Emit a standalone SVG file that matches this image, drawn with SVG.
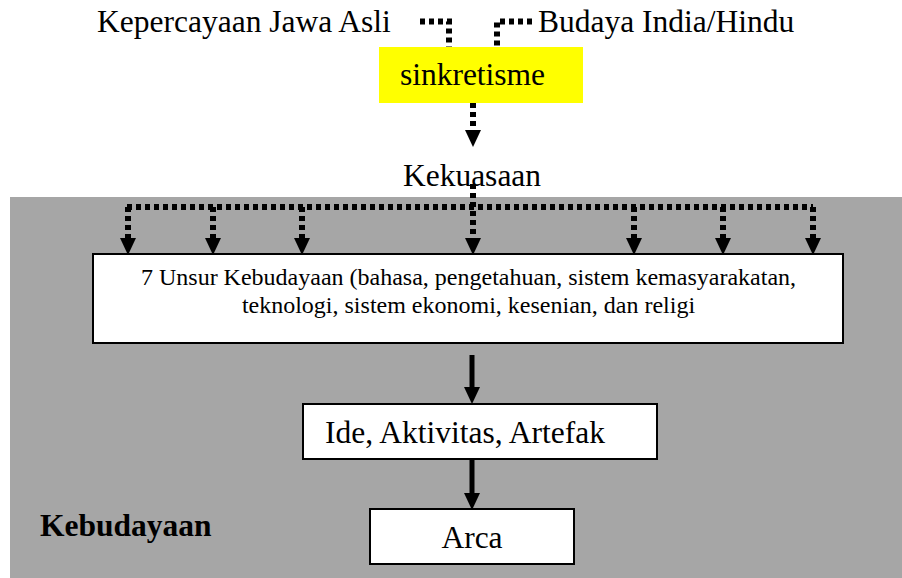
<svg xmlns="http://www.w3.org/2000/svg" width="902" height="578" viewBox="0 0 902 578">
  <style>
    text { font-family: 'Liberation Serif', 'Times New Roman', Times, serif; fill: #000; }
    .big { font-size: 31.5px; }
    .small { font-size: 24px; }
    .box { fill: #fff; stroke: #000; stroke-width: 2; }
    .dot { fill: none; stroke: #000; stroke-width: 6; stroke-dasharray: 5 4; }
    .solid { fill: none; stroke: #000; stroke-width: 5; }
  </style>
  <defs>
    <marker id="ah" markerUnits="userSpaceOnUse" markerWidth="18" markerHeight="18" refX="0" refY="8" orient="auto">
      <path d="M0,0 L17,8 L0,16 z" fill="#000"/>
    </marker>
  </defs>

  <rect id="background" x="10" y="197" width="892" height="381" fill="#a6a6a6"/>

  <g id="kepercayaan">
    <text class="big" font-family="Liberation Serif, serif" x="97" y="32">Kepercayaan Jawa Asli</text>
  </g>
  <g id="budaya">
    <text class="big" font-family="Liberation Serif, serif" x="538" y="32">Budaya India/Hindu</text>
  </g>
  <g id="sinkretisme">
    <rect x="379" y="47" width="204" height="56" fill="#ffff00"/>
    <text class="big" font-family="Liberation Serif, serif" x="472.5" y="85" text-anchor="middle">sinkretisme</text>
  </g>
  <g id="kekuasaan">
    <text class="big" font-family="Liberation Serif, serif" x="472" y="186" text-anchor="middle">Kekuasaan</text>
  </g>
  <g id="unsur">
    <rect class="box" x="93" y="254" width="750" height="89"/>
    <text class="small" font-family="Liberation Serif, serif" x="468.5" y="285" text-anchor="middle">7 Unsur Kebudayaan (bahasa, pengetahuan, sistem kemasyarakatan,</text>
    <text class="small" font-family="Liberation Serif, serif" x="468.5" y="313" text-anchor="middle">teknologi, sistem ekonomi, kesenian, dan religi</text>
  </g>
  <g id="ide">
    <rect class="box" x="303" y="404" width="354" height="55"/>
    <text class="big" font-family="Liberation Serif, serif" x="325" y="443">Ide, Aktivitas, Artefak</text>
  </g>
  <g id="arca">
    <rect class="box" x="370" y="509" width="204" height="55"/>
    <text class="big" font-family="Liberation Serif, serif" x="472" y="548" text-anchor="middle">Arca</text>
  </g>
  <g id="kebudayaan">
    <text class="big" font-family="Liberation Serif, serif" x="40" y="536" font-weight="bold">Kebudayaan</text>
  </g>

  <g id="connectors">
    <path class="dot" d="M420,21.5 L449,21.5 L449,47"/>
    <path class="dot" d="M532,21.5 L497,21.5 L497,47"/>
    <path class="dot" d="M473,103 L473,130" marker-end="url(#ah)"/>
    <path class="dot" d="M127,207 L813,207"/>
    <path class="dot" d="M128,207 L128,238" marker-end="url(#ah)"/>
    <path class="dot" d="M213,207 L213,238" marker-end="url(#ah)"/>
    <path class="dot" d="M302,207 L302,238" marker-end="url(#ah)"/>
    <path class="dot" d="M473,184 L473,238" marker-end="url(#ah)"/>
    <path class="dot" d="M634,207 L634,238" marker-end="url(#ah)"/>
    <path class="dot" d="M723,207 L723,238" marker-end="url(#ah)"/>
    <path class="dot" d="M813,207 L813,238" marker-end="url(#ah)"/>
    <path class="solid" d="M472,355 L472,387" marker-end="url(#ah)"/>
    <path class="solid" d="M472,459 L472,493" marker-end="url(#ah)"/>
  </g>
</svg>
